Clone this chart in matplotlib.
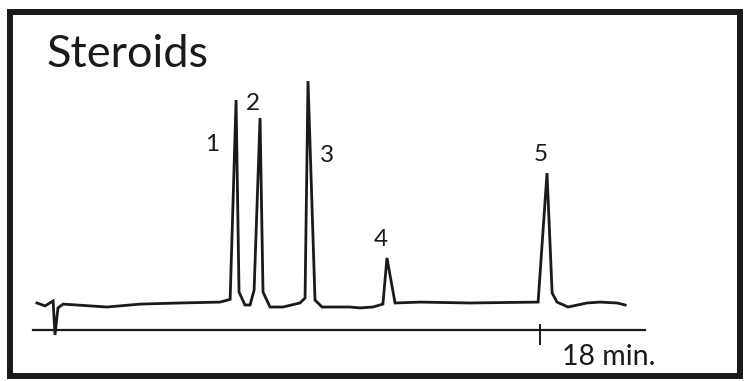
import matplotlib
matplotlib.use('Agg')
import matplotlib.pyplot as plt
from matplotlib.patches import Rectangle

# chromatogram trace: retention time [min] and detector signal [a.u.]
time = [-0.67, -0.37, -0.07, 0.0, 0.11, 0.30, 1.93, 3.16, 4.64, 6.12, 6.50,
        6.72, 6.83, 7.05, 7.24, 7.39, 7.61, 7.72, 7.98, 8.46, 9.09, 9.28,
        9.39, 9.65, 9.91, 10.95, 11.32, 11.80, 12.17, 12.32, 12.62, 13.55,
        15.40, 17.93, 18.26, 18.45, 18.63, 19.04, 19.74, 20.23, 20.86, 21.16]
signal = [0.009, -0.004, 0.018, -0.134, -0.013, 0.004, -0.009, 0.004, 0.009,
          0.013, 0.025, 0.915, 0.058, 0.0, 0.0, 0.067, 0.835, 0.058, -0.009,
          -0.009, 0.009, 0.031, 1.0, 0.022, -0.009, -0.009, -0.013, -0.009,
          0.004, 0.210, 0.009, 0.013, 0.009, 0.013, 0.589, 0.054, 0.013,
          -0.009, 0.009, 0.013, 0.009, 0.0]

# peak apexes and labels
peak_time = [6.72, 7.61, 9.39, 12.32, 18.26]
peak_signal = [0.915, 0.835, 1.0, 0.210, 0.589]
peak_labels = ['1', '2', '3', '4', '5']
label_offsets = [(-24, -44), (-7, 14), (19, -74), (-6, 18), (-6, 19)]  # pixels

tick_time = 18
tick_label = '18 min.'
title = 'Steroids'

W, H, DPI = 744, 381, 100
FONT = ['Lato', 'DejaVu Sans']

fig = plt.figure(figsize=(W / DPI, H / DPI), dpi=DPI)
ax = fig.add_axes([0, 0, 1, 1])
ax.set_axis_off()

# axis limits chosen so 0 min sits at x=55px and 18 min at x=540px
px_per_min = (540 - 55) / 18
px_per_unit = 224
ax.set_xlim(-55 / px_per_min, (W - 55) / px_per_min)
ax.set_ylim(-(H - 305) / px_per_unit, 305 / px_per_unit)

ax.plot(time, signal, color='#1a1a1a', linewidth=2.0, solid_joinstyle='miter')

# time axis with single tick
axis_y = -25 / px_per_unit
ax.plot([-22 / px_per_min, 590 / px_per_min], [axis_y, axis_y],
        color='#1a1a1a', linewidth=1.6)
ax.plot([tick_time, tick_time], [-20 / px_per_unit, -39 / px_per_unit],
        color='#1a1a1a', linewidth=1.4)
ax.text(tick_time + 22 / px_per_min, -60 / px_per_unit, tick_label,
        fontsize=20.5, family=FONT, color='#1a1a1a', va='baseline')

for t, s, lab, off in zip(peak_time, peak_signal, peak_labels, label_offsets):
    ax.annotate(lab, (t, s), xytext=off, textcoords='offset pixels',
                ha='center', va='center', fontsize=17.5, family=FONT,
                color='#1a1a1a')

fig.text(46 / W, 1 - 67 / H, title, fontsize=32.5, family=FONT,
         color='#1a1a1a', va='baseline')

# frame around the chart
fig.patches.append(Rectangle((10 / W, 5 / H), 730 / W, 364 / H,
                             transform=fig.transFigure, fill=False,
                             edgecolor='#1a1a1a', linewidth=4.3))

fig.savefig('out.png', dpi=DPI)
